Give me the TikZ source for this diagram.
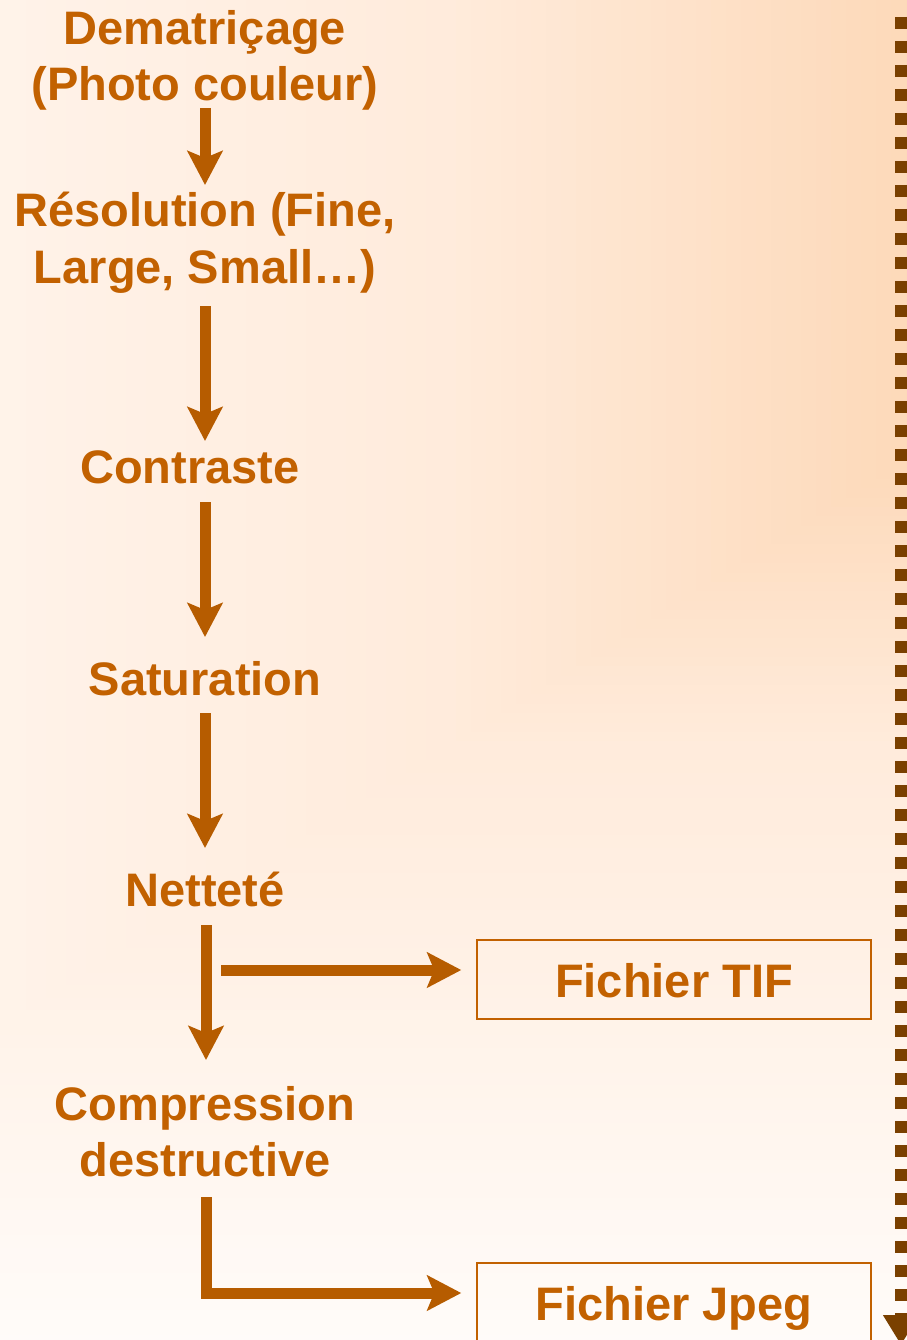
\documentclass[tikz,border=0pt]{standalone}
\usepackage{fontspec}
\setmainfont{Liberation Sans}
\usetikzlibrary{arrows.meta,calc}
\definecolor{peach}{HTML}{FDD9B9}
\definecolor{bgmid}{HTML}{FFEBDB}
\definecolor{bgend}{HTML}{FFFCFA}
\definecolor{txtc}{HTML}{C26100}
\definecolor{arrc}{HTML}{B65C00}
\definecolor{dotc}{HTML}{7A4000}
\begin{document}
\begin{tikzpicture}[x=1pt,y=-1pt,
  lbl/.style={font=\fontsize{47}{56}\selectfont\bfseries, text=txtc, inner sep=0pt, align=center, anchor=base},
  flow/.style={draw=arrc, line width=11pt, line join=miter, -{Stealth[length=34pt,width=35pt,inset=7pt]}},
  filebox/.style={draw=txtc, line width=1.5pt, minimum width=394pt, minimum height=79pt, inner sep=0pt,
    text height=35pt, text depth=0pt, font=\fontsize{47}{56}\selectfont\bfseries, text=txtc},
  dots/.style={draw=dotc, line width=12pt, dash pattern=on 12pt off 12pt, -{Triangle[length=30pt,width=34pt]}}]
\useasboundingbox (0,0) rectangle (906,1340);
% background: rectangular gradient from the top right
\fill[bgend] (0,0) rectangle (906,1340);
\foreach \s in {1460,1440,...,470} {
  \pgfmathtruncatemacro\p{min(100,(\s-456)/9.94)}
  \fill[bgend!\p!bgmid] (906-\s,-5) rectangle (915,460+\s/1.6);
}
\foreach \s in {450,435,...,0} {
  \pgfmathtruncatemacro\p{\s/4.56}
  \fill[bgmid!\p!peach] (906-\s,-5) rectangle (915,460+\s/1.6);
}
% labels (base = baseline of the last line)
\node[lbl] (dem) at (205,101) {Dematriçage\\(Photo couleur)};
\node[lbl] (res) at (205,283) {Résolution (Fine,\\Large, Small…)};
\node[lbl] (con) at (190,483) {Contraste};
\node[lbl] (sat) at (205,695) {Saturation};
\node[lbl] (net) at (205,906) {Netteté};
\node[lbl] (cmp) at (205,1176) {Compression\\destructive};
\node[filebox] (tif) at (674,979.5) {Fichier TIF};
\node[filebox] (jpg) at (674,1302.5) {Fichier Jpeg};
% connectors
\draw[flow] ($(dem.base)+(0,7)$) -- ($(res.base)+(0,-98)$);
\draw[flow] ($(res.base)+(0,23)$) -- ($(res.base |- con.base)+(0,-42)$);
\draw[flow] ($(sat.base |- con.base)+(0,19)$) -- ($(sat.base)+(0,-58)$);
\draw[flow] ($(sat.base)+(0,18)$) -- ($(net.base)+(0,-58)$);
\draw[flow] ($(net.base)+(1,19)$) -- ($(cmp.base)+(1,-116)$);
\draw[flow] ($(net.base)+(16,64)$) -- ($(tif.west)+(-15,-9.5)$);
\draw[flow] ($(cmp.base)+(1,21)$) |- ($(jpg.west)+(-15,-9.5)$);
% dotted side arrow
\coordinate (dtop) at (901,17);
\coordinate (dbot) at (901,1345);
\draw[dots] (dtop) -- (dbot);
\end{tikzpicture}
\end{document}
